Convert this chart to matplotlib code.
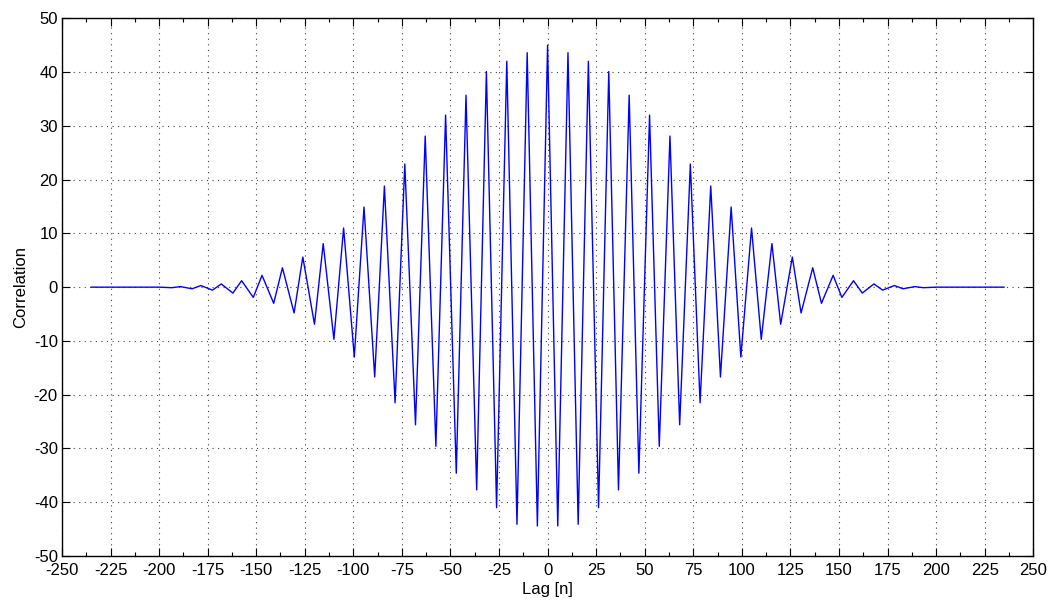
import numpy as np
import matplotlib
matplotlib.use('Agg')
import matplotlib.pyplot as plt
from matplotlib.ticker import MultipleLocator

# extrema (lag, correlation)
peak_lags = [-189, -178.5, -168, -157.5, -147, -136.5, -126, -115.5, -105, -94.5,
             -84, -73.5, -63, -52.5, -42, -31.5, -21, -10.5, 0,
             10.5, 21, 31.5, 42, 52.5, 63, 73.5, 84, 94.5, 105,
             115.5, 126, 136.5, 147, 157.5, 168, 178.5, 189]
peak_vals = [0.1, 0.3, 0.6, 1.2, 2.2, 3.6, 5.6, 8.1, 11.0, 14.9,
             18.8, 22.9, 28.1, 32.0, 35.7, 40.1, 42.0, 43.6, 45.0,
             43.6, 42.0, 40.1, 35.7, 32.0, 28.1, 22.9, 18.8, 14.9, 11.0,
             8.1, 5.6, 3.6, 2.2, 1.2, 0.6, 0.3, 0.1]

trough_lags = [-193.5, -183, -172.5, -162, -151.5, -141, -130.5, -120, -110, -99.5,
               -89, -78.5, -68, -57.5, -47, -36.5, -26.25, -15.75, -5.25,
               5.25, 15.75, 26.25, 36.5, 47, 57.5, 68, 78.5, 89, 99.5,
               110, 120, 130.5, 141, 151.5, 162, 172.5, 183, 193.5]
trough_vals = [-0.1, -0.3, -0.55, -1.1, -1.9, -3.0, -4.8, -6.9, -9.7, -13.0,
               -16.7, -21.5, -25.6, -29.6, -34.6, -37.7, -41.0, -44.1, -44.4,
               -44.4, -44.1, -41.0, -37.7, -34.6, -29.6, -25.6, -21.5, -16.7, -13.0,
               -9.7, -6.9, -4.8, -3.0, -1.9, -1.1, -0.55, -0.3, -0.1]

# flat tails at both ends
tail_lags = [-235, -200, 200, 235]
tail_vals = [0.0, 0.0, 0.0, 0.0]

x_ticks = list(range(-250, 251, 25))
y_ticks = list(range(-50, 51, 10))


def build_series():
	lags = np.array(peak_lags + trough_lags + tail_lags, dtype=float)
	vals = np.array(peak_vals + trough_vals + tail_vals, dtype=float)
	order = np.argsort(lags)
	return lags[order], vals[order]


def main():
	plt.rcParams['font.family'] = ['Liberation Sans', 'DejaVu Sans']
	plt.rcParams['axes.unicode_minus'] = False
	fig = plt.figure(figsize=(10.5, 6.1), dpi=100)
	ax = fig.add_axes([0.059, 0.0885, 0.925, 0.8815])

	lags, vals = build_series()
	ax.plot(lags, vals, color='#0000ff', linewidth=1.0)

	ax.set_xlim(-250, 250)
	ax.set_ylim(-50, 50)
	ax.set_xticks(x_ticks)
	ax.set_yticks(y_ticks)
	ax.xaxis.set_minor_locator(MultipleLocator(12.5))
	ax.tick_params(which='both', direction='in', top=True, right=True,
			labelsize=12, width=0.8)
	ax.tick_params(which='major', length=6)
	ax.tick_params(which='minor', length=3)
	ax.tick_params(axis='x', pad=5)
	ax.tick_params(axis='y', pad=3)
	ax.grid(True, which='major', linestyle=(0, (1, 4)), color='#444444', linewidth=0.8)
	for sp in ax.spines.values():
		sp.set_linewidth(1.0)

	ax.set_xlabel('Lag [n]', fontsize=12, labelpad=3)
	ax.set_ylabel('Correlation', fontsize=12, labelpad=4)

	fig.savefig('out.png', dpi=100)


if __name__ == "__main__":
	main()
